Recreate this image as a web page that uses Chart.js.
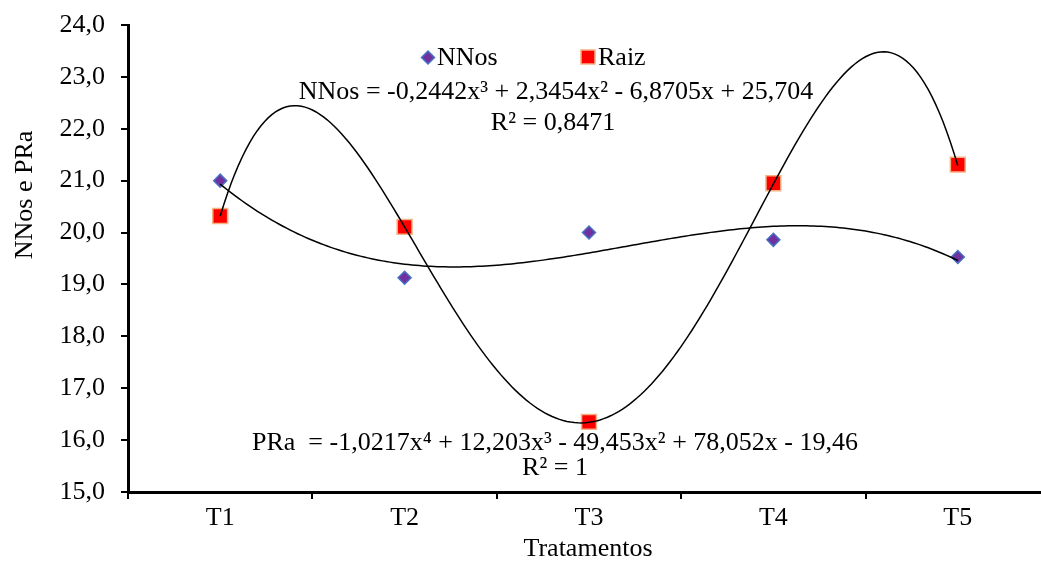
<!DOCTYPE html>
<html>
<head>
<meta charset="utf-8">
<script src="https://cdn.jsdelivr.net/npm/chart.js@4"></script>
<style>
  html, body { margin: 0; padding: 0; background: #fff; overflow: hidden; }
  #wrap { width: 1062px; height: 561px; }
</style>
</head>
<body>
<div id="wrap"><canvas id="chart" width="1062" height="561"></canvas></div>
<script>
const categories = ["T1", "T2", "T3", "T4", "T5"];
const nnosValues = [21.0, 19.13, 20.0, 19.86, 19.53];
const raizValues = [20.32, 20.11, 16.35, 20.95, 21.31];

// coeficientes das linhas de tendência (maior grau primeiro)
const nnosCoef = [-0.2442, 2.3454, -6.8705, 25.704];
const praCoef = [-1.0217, 12.203, -49.453, 78.052, -19.46];

const nnosEquation = "NNos = -0,2442x³ + 2,3454x² - 6,8705x + 25,704";
const nnosR2 = "R² = 0,8471";
const praEquation = "PRa  = -1,0217x⁴ + 12,203x³ - 49,453x² + 78,052x - 19,46";
const praR2 = "R² = 1";

const FONT = '"Liberation Serif", "Times New Roman", serif';
const FS = 26;

const polyAt = (coef, x) => coef.reduce((acc, c) => acc * x + c, 0);

const overlay = {
  id: "overlay",
  afterDatasetsDraw(chart) {
    const { ctx, scales: { x, y } } = chart;
    ctx.save();
    ctx.strokeStyle = "#000";
    ctx.lineWidth = 1.5;
    [nnosCoef, praCoef].forEach(coef => {
      ctx.beginPath();
      for (let i = 0; i <= 200; i++) {
        const t = 1 + 4 * i / 200;
        const px = x.getPixelForValue(t - 1);
        const py = y.getPixelForValue(polyAt(coef, t));
        if (i === 0) ctx.moveTo(px, py); else ctx.lineTo(px, py);
      }
      ctx.stroke();
    });
    ctx.restore();
  },
  afterDraw(chart) {
    const { ctx } = chart;
    ctx.save();
    ctx.fillStyle = "#000";
    ctx.font = `${FS}px ${FONT}`;
    ctx.textBaseline = "middle";
    ctx.textAlign = "center";
    ctx.fillText(nnosEquation, 556, 92);
    ctx.fillText(nnosR2, 553, 123);
    ctx.fillText(praEquation, 555, 443);
    ctx.fillText(praR2, 555, 468);
    ctx.fillText("Tratamentos", 588, 549);

    // legenda
    ctx.textAlign = "left";
    ctx.fillText("NNos", 437, 58);
    ctx.fillText("Raiz", 598, 58);
    ctx.beginPath();
    ctx.moveTo(428, 51); ctx.lineTo(434.5, 57.5); ctx.lineTo(428, 64); ctx.lineTo(421.5, 57.5);
    ctx.closePath();
    ctx.fillStyle = "#7030A0"; ctx.fill();
    ctx.strokeStyle = "#4472C4"; ctx.lineWidth = 1.5; ctx.stroke();
    ctx.fillStyle = "#FF0000";
    ctx.fillRect(581, 50, 14, 14);
    ctx.strokeStyle = "#F4B183"; ctx.strokeRect(581, 50, 14, 14);

    // título do eixo y
    ctx.fillStyle = "#000";
    ctx.translate(25, 195);
    ctx.rotate(-Math.PI / 2);
    ctx.textAlign = "center";
    ctx.fillText("NNos e PRa", 0, 0);
    ctx.restore();
  }
};

new Chart(document.getElementById("chart"), {
  type: "line",
  data: {
    labels: categories,
    datasets: [
      {
        label: "NNos",
        data: nnosValues,
        showLine: false,
        pointStyle: "rectRot",
        pointRadius: 6.5,
        pointHoverRadius: 6.5,
        pointBackgroundColor: "#7030A0",
        pointBorderColor: "#4472C4",
        pointBorderWidth: 1.5
      },
      {
        label: "Raiz",
        data: raizValues,
        showLine: false,
        pointStyle: "rect",
        pointRadius: 10.5,
        pointHoverRadius: 10.5,
        pointBackgroundColor: "#FF0000",
        pointBorderColor: "#F4B183",
        pointBorderWidth: 1.5
      }
    ]
  },
  options: {
    responsive: false,
    animation: false,
    layout: { padding: { left: 0, right: 1, top: 25, bottom: 0 } },
    plugins: {
      legend: { display: false },
      tooltip: { enabled: false }
    },
    scales: {
      x: {
        offset: true,
        grid: { offset: true, drawOnChartArea: false, color: "#000", lineWidth: 2, tickLength: 7 },
        border: { color: "#000", width: 3 },
        ticks: { color: "#000", font: { family: FONT, size: FS }, padding: 4 },
        afterFit: s => { s.height = 69; }
      },
      y: {
        min: 15,
        max: 24,
        ticks: {
          stepSize: 1,
          color: "#000",
          font: { family: FONT, size: FS },
          padding: 16,
          callback: v => v.toFixed(1).replace(".", ",")
        },
        grid: { drawOnChartArea: false, color: "#000", lineWidth: 2, tickLength: 7 },
        border: { color: "#000", width: 3 },
        afterFit: s => { s.width = 128; s.paddingTop = 0; s.paddingBottom = 0; }
      }
    }
  },
  plugins: [overlay]
});
</script>
</body>
</html>
